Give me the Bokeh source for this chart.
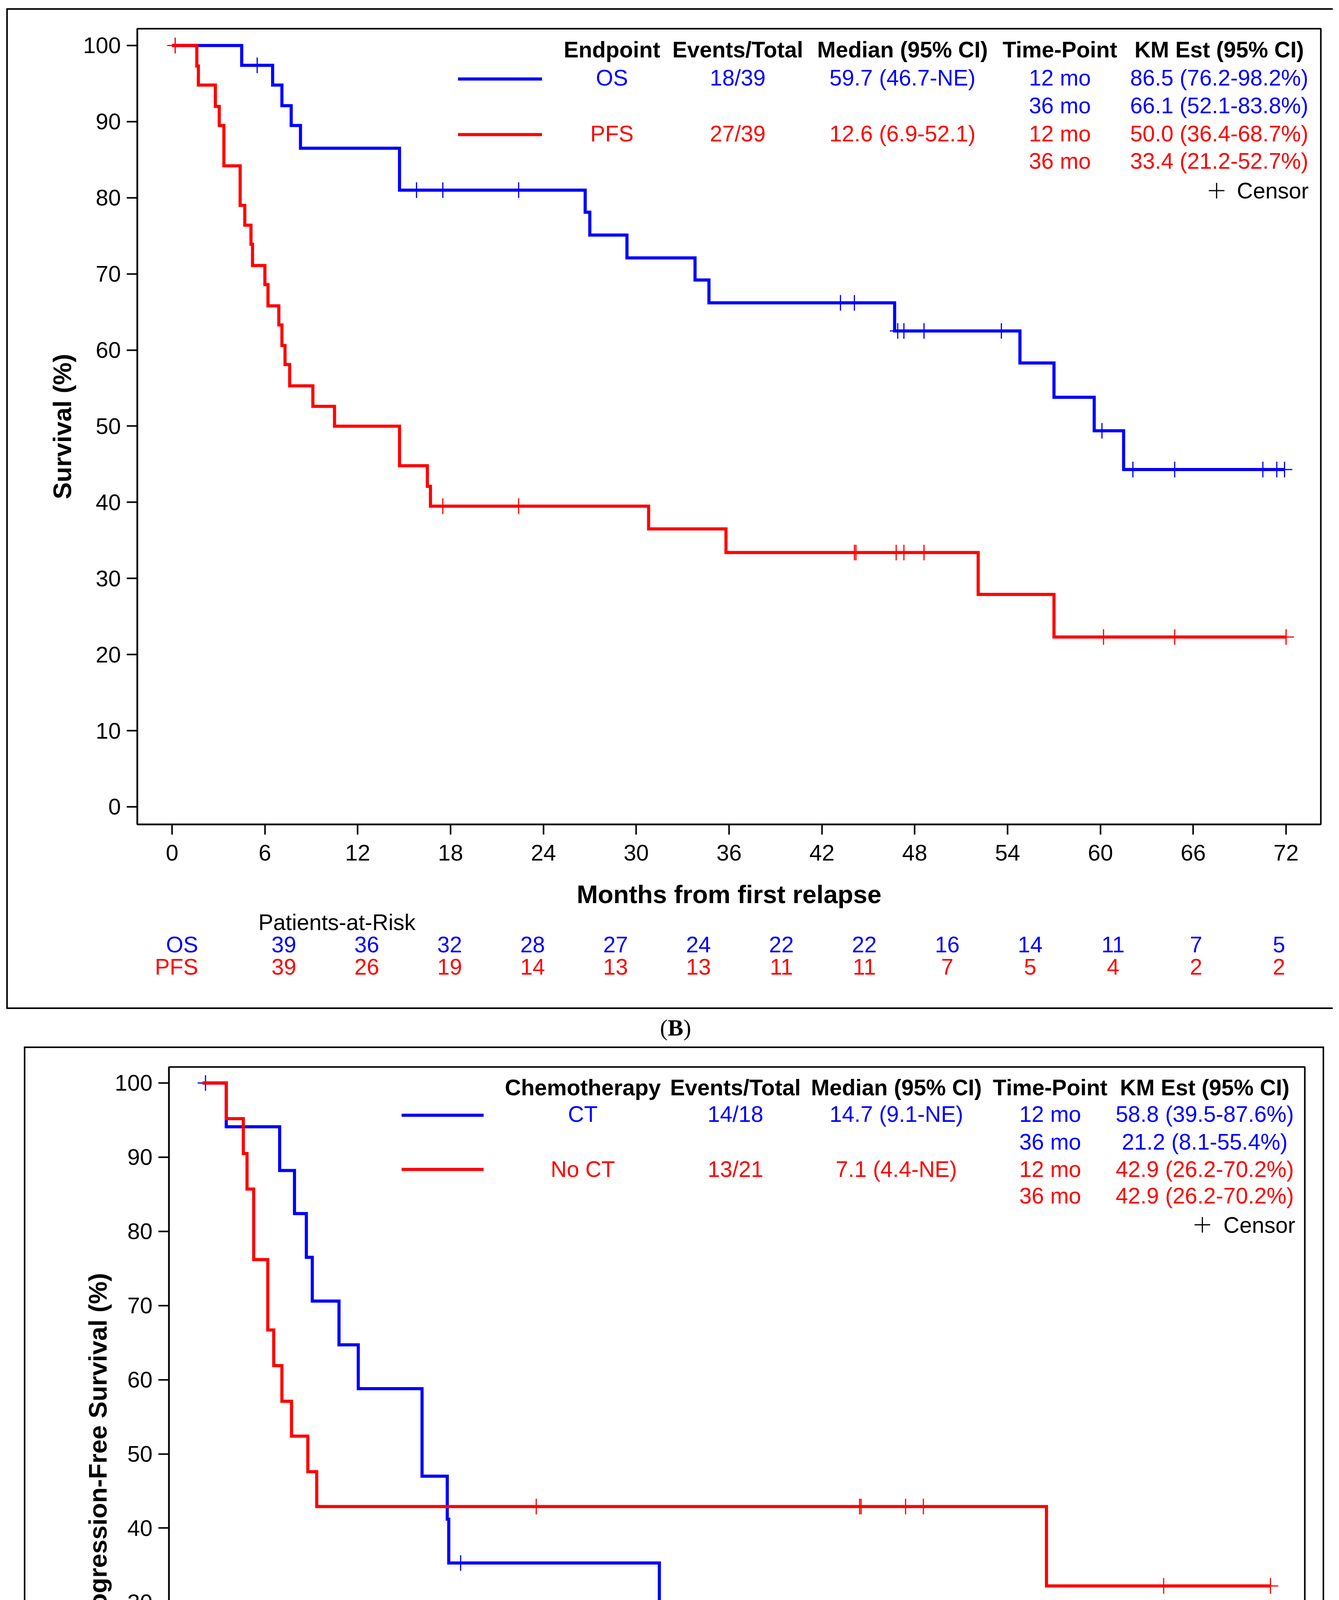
import numpy as np
from bokeh.plotting import figure
from bokeh.models import Range1d, FixedTicker, Spacer
from bokeh.layouts import column, row
from bokeh.embed import file_html
from bokeh.resources import INLINE
from bokeh.core.properties import value

# ======================= DATA =======================
# ---- Panel B : OS / PFS ----
OS_T = [0, 4.5, 6.5, 7.1, 7.7, 8.3, 14.7, 26.7, 27.0, 29.4, 33.8, 34.7, 46.7, 54.8, 57.0, 59.6, 61.5, 71.9]
OS_S = [100, 97.4, 94.8, 92.1, 89.5, 86.5, 81.0, 78.1, 75.1, 72.1, 69.2, 66.2, 62.5, 58.3, 53.8, 49.4, 44.3, 44.3]
OS_CENSOR = [0.2, 5.5, 15.8, 17.5, 22.4, 43.2, 44.1, 46.9, 47.3, 48.6, 53.6, 60.1, 62.1, 64.8, 70.5, 71.4, 71.9]

PFS_T = [0, 1.6, 1.7, 2.8, 3.05, 3.35, 4.4, 4.7, 5.1, 5.2, 6.0, 6.2, 6.9, 7.1, 7.3, 7.6, 9.1, 10.5,
         14.7, 16.5, 16.7, 30.8, 35.8, 52.1, 57.0, 72.0]
PFS_S = [100, 97.3, 94.8, 92.0, 89.5, 84.2, 79.0, 76.4, 73.9, 71.1, 68.6, 65.8, 63.3, 60.6, 58.1, 55.3, 52.6, 50.0,
         44.8, 42.1, 39.5, 36.5, 33.4, 27.9, 22.3, 22.3]
PFS_CENSOR = [0.2, 17.5, 22.4, 44.1, 44.2, 46.8, 47.3, 48.6, 60.2, 64.8, 72.0]

RISK_TIMES = [0, 6, 12, 18, 24, 30, 36, 42, 48, 54, 60, 66, 72]
OS_RISK = [39, 36, 32, 28, 27, 24, 22, 22, 16, 14, 11, 7, 5]
PFS_RISK = [39, 26, 19, 14, 13, 13, 11, 11, 7, 5, 4, 2, 2]

B_HEADERS = ["Endpoint", "Events/Total", "Median (95% CI)", "Time-Point", "KM Est (95% CI)"]
B_GROUPS = ["OS", "PFS"]
B_EVENTS = ["18/39", "27/39"]
B_MEDIAN = ["59.7 (46.7-NE)", "12.6 (6.9-52.1)"]
TIME_POINTS = ["12 mo", "36 mo"]
B_KM = [["86.5 (76.2-98.2%)", "66.1 (52.1-83.8%)"], ["50.0 (36.4-68.7%)", "33.4 (21.2-52.7%)"]]

# ---- Panel C : CT / No CT ----
CT_T = [0, 1.6, 5.2, 6.2, 7.0, 7.4, 9.2, 10.5, 14.8, 16.5, 16.6, 30.8, 35.9, 52.2, 60.4]
CT_S = [100, 94.1, 88.2, 82.4, 76.5, 70.6, 64.7, 58.8, 47.0, 41.2, 35.3, 28.3, 21.2, 10.6, 10.6]
CT_CENSOR = [0.2, 17.4, 46.7, 60.4]

NOCT_T = [0, 1.6, 2.75, 3.0, 3.45, 4.4, 4.8, 5.35, 6.0, 7.1, 7.7, 56.9, 72.0]
NOCT_S = [100, 95.2, 90.5, 85.7, 76.2, 66.7, 61.9, 57.1, 52.4, 47.6, 42.9, 32.2, 32.2]
NOCT_CENSOR = [22.5, 44.3, 44.4, 47.4, 48.6, 64.8, 72.0]

CT_RISK = [18, 15, 10, 5, 5, 5, 3, 3, 2, 1, 1, 0]
NOCT_RISK = [21, 11, 9, 9, 8, 8, 8, 8, 5, 4, 3, 2, 2]

C_HEADERS = ["Chemotherapy", "Events/Total", "Median (95% CI)", "Time-Point", "KM Est (95% CI)"]
C_GROUPS = ["CT", "No CT"]
C_EVENTS = ["14/18", "13/21"]
C_MEDIAN = ["14.7 (9.1-NE)", "7.1 (4.4-NE)"]
C_KM = [["58.8 (39.5-87.6%)", "21.2 (8.1-55.4%)"], ["42.9 (26.2-70.2%)", "42.9 (26.2-70.2%)"]]

X_TICKS = [0, 6, 12, 18, 24, 30, 36, 42, 48, 54, 60, 66, 72]
Y_TICKS = [0, 10, 20, 30, 40, 50, 60, 70, 80, 90, 100]

# ======================= STYLE / LAYOUT =======================
FONT = "Liberation Sans"
SERIF = "Liberation Serif"
BLUE = "#0000FF"
RED = "#FF0000"
TXT = "57px"


def surv_at(times, surv, t):
    idx = np.searchsorted(np.asarray(times), np.asarray(t), side="right") - 1
    return np.asarray(surv)[idx]


def add_text(p, x, y, s, color="black", bold=False, align="center", baseline="middle",
             size=TXT, font=FONT):
    p.text(x=[x], y=[y], text=[s], text_color=color, text_font=value(font),
           text_font_size=size, text_font_style="bold" if bold else "normal",
           text_align=align, text_baseline=baseline)


def bare_figure(W, H, xr, yr):
    f = figure(width=W, height=H, x_range=Range1d(*xr), y_range=Range1d(*yr),
               output_backend="svg", toolbar_location=None,
               x_axis_location=None, y_axis_location=None,
               min_border=0, min_border_left=0, min_border_right=0,
               min_border_top=0, min_border_bottom=0)
    f.grid.visible = False
    f.outline_line_color = None
    f.background_fill_color = "white"
    f.border_fill_color = "white"
    return f


def km_figure(W, H, bl, br, bt, bb, xr, yr, ylabel, xt_standoff, xl_standoff, yl_standoff):
    p = figure(width=W, height=H, x_range=Range1d(*xr), y_range=Range1d(*yr),
               output_backend="svg", toolbar_location=None,
               min_border_left=bl, min_border_right=br, min_border_top=bt, min_border_bottom=bb)
    p.xgrid.visible = False
    p.ygrid.visible = False
    p.outline_line_color = "black"
    p.outline_line_width = 4
    p.background_fill_color = "white"
    p.border_fill_color = "white"
    p.xaxis.ticker = FixedTicker(ticks=X_TICKS)
    p.yaxis.ticker = FixedTicker(ticks=Y_TICKS)
    p.xaxis.axis_label = "Months from first relapse"
    p.yaxis.axis_label = ylabel
    for ax in (p.xaxis[0], p.yaxis[0]):
        ax.axis_line_width = 4
        ax.axis_line_color = "black"
        ax.major_tick_line_width = 4
        ax.major_tick_line_color = "black"
        ax.major_tick_in = 0
        ax.minor_tick_line_color = None
        ax.major_label_text_font = FONT
        ax.major_label_text_font_size = "58px"
        ax.major_label_text_color = "black"
        ax.axis_label_text_font = FONT
        ax.axis_label_text_font_size = "65px"
        ax.axis_label_text_font_style = "bold"
        ax.axis_label_text_color = "black"
    p.xaxis[0].major_tick_out = 26
    p.yaxis[0].major_tick_out = 27
    p.xaxis[0].major_label_standoff = xt_standoff
    p.yaxis[0].major_label_standoff = 15
    p.xaxis[0].axis_label_standoff = xl_standoff
    p.yaxis[0].axis_label_standoff = yl_standoff
    return p


def add_curve(p, t, s, censor, color):
    p.step(x=t, y=s, mode="after", line_color=color, line_width=8, line_join="miter")
    p.scatter(x=censor, y=surv_at(t, s, censor), marker="cross", size=40,
              line_color=color, line_width=3)


def add_legend_table(p, headers, groups, events, medians, kms, cols, rows, line_x, line_y, plus_x, cens_x):
    colors = [BLUE, RED]
    for c, h in zip(cols, headers):
        add_text(p, c, rows[0], h, bold=True)
    for g in range(2):
        r1 = rows[1 + 2 * g]
        r2 = rows[2 + 2 * g]
        col = colors[g]
        p.line(x=list(line_x), y=[line_y[g], line_y[g]], line_color=col, line_width=8)
        add_text(p, cols[0], r1, groups[g], color=col)
        add_text(p, cols[1], r1, events[g], color=col)
        add_text(p, cols[2], r1, medians[g], color=col)
        add_text(p, cols[3], r1, TIME_POINTS[0], color=col)
        add_text(p, cols[3], r2, TIME_POINTS[1], color=col)
        add_text(p, cols[4], r1, kms[g][0], color=col)
        add_text(p, cols[4], r2, kms[g][1], color=col)
    p.scatter(x=[plus_x], y=[rows[5]], marker="cross", size=40, line_color="black", line_width=3)
    add_text(p, cens_x, rows[5], "Censor", align="left")


def risk_figure(W, H, km_W, bl, br, xr, row_y, names, risks):
    # same month->pixel mapping as the KM frame above, extended over the full width
    ppm = (km_W - bl - br) / (xr[1] - xr[0])
    r = bare_figure(W, H, (xr[0] - bl / ppm, xr[1] + br / ppm), (H, 0))
    add_text(r, -1.84, row_y[0], "Patients-at-Risk", align="left")
    colors = [BLUE, RED]
    for g in range(2):
        add_text(r, -6.2, row_y[1 + g], names[g], color=colors[g], align="right")
        vals = risks[g]
        r.text(x=RISK_TIMES[:len(vals)], y=[row_y[1 + g]] * len(vals), text=[str(v) for v in vals],
               text_color=colors[g], text_font=value(FONT), text_font_size=TXT,
               text_align="center", text_baseline="middle")
    return r


def caption_figure(W, H, cx, cy, letter, half):
    c = bare_figure(W, H, (0, W), (H, 0))
    add_text(c, cx - half, cy, "(", align="right", font=SERIF, size="60px")
    add_text(c, cx, cy, letter, align="center", bold=True, font=SERIF, size="60px")
    add_text(c, cx + half, cy, ")", align="left", font=SERIF, size="60px")
    return c


# ======================= PANEL B =======================
KB_W, KB_H = 3392, 2303
B_XR = (-2.247, 74.247)
B_YR = (-2.309, 102.206)
kmB = km_figure(KB_W, KB_H, 331, 31, 48, 218, B_XR, B_YR, "Survival (%)", 26, 47, 14)
add_curve(kmB, OS_T, OS_S, OS_CENSOR, BLUE)
add_curve(kmB, PFS_T, PFS_S, PFS_CENSOR, RED)
add_legend_table(kmB, B_HEADERS, B_GROUPS, B_EVENTS, B_MEDIAN, B_KM,
                 cols=[28.43, 36.56, 47.21, 57.38, 67.68],
                 rows=[99.44, 95.79, 92.14, 88.44, 84.84, 80.94],
                 line_x=(18.48, 23.91), line_y=(95.6, 88.3), plus_x=67.51, cens_x=68.82)
riskB = risk_figure(KB_W, 251, KB_W, 331, 31, B_XR, [32, 89, 146], B_GROUPS, [OS_RISK, PFS_RISK])

B_BORDER = {"border-left": "4px solid black", "border-top": "4px solid black",
            "border-bottom": "4px solid black"}
panelB = column(kmB, riskB, styles=B_BORDER)
capB = caption_figure(3412, 96, 1729, 47, "B", 20)

# ======================= PANEL C =======================
KC_W, KC_H = 3321, 2246
C_XR = (-2.265, 74.318)
C_YR = (-2.264, 102.159)
kmC = km_figure(KC_W, KC_H, 367, 46, 48, 215, C_XR, C_YR, "Progression-Free Survival (%)", 26, 43, 4)
add_curve(kmC, CT_T, CT_S, CT_CENSOR, BLUE)
add_curve(kmC, NOCT_T, NOCT_S, NOCT_CENSOR, RED)
add_legend_table(kmC, C_HEADERS, C_GROUPS, C_EVENTS, C_MEDIAN, C_KM,
                 cols=[25.64, 35.93, 46.78, 57.15, 67.57],
                 rows=[99.37, 95.79, 92.05, 88.41, 84.83, 80.88],
                 line_x=(13.42, 18.95), line_y=(95.65, 88.35), plus_x=67.41, cens_x=68.83)
riskC = risk_figure(KC_W, 243, KC_W, 367, 46, C_XR, [24, 81, 138], C_GROUPS, [CT_RISK, NOCT_RISK])

C_BORDER = {"border": "4px solid black"}
panelC = column(kmC, riskC, styles=C_BORDER)
capC = caption_figure(3412, 116, 1726, 61, "C", 22)

root = column(
    Spacer(width=3412, height=21),
    row(Spacer(width=16, height=10), panelB),
    capB,
    row(Spacer(width=61, height=10), panelC),
    capC,
)

open("out.html", "w").write(file_html(root, INLINE, title="Kaplan-Meier"))
